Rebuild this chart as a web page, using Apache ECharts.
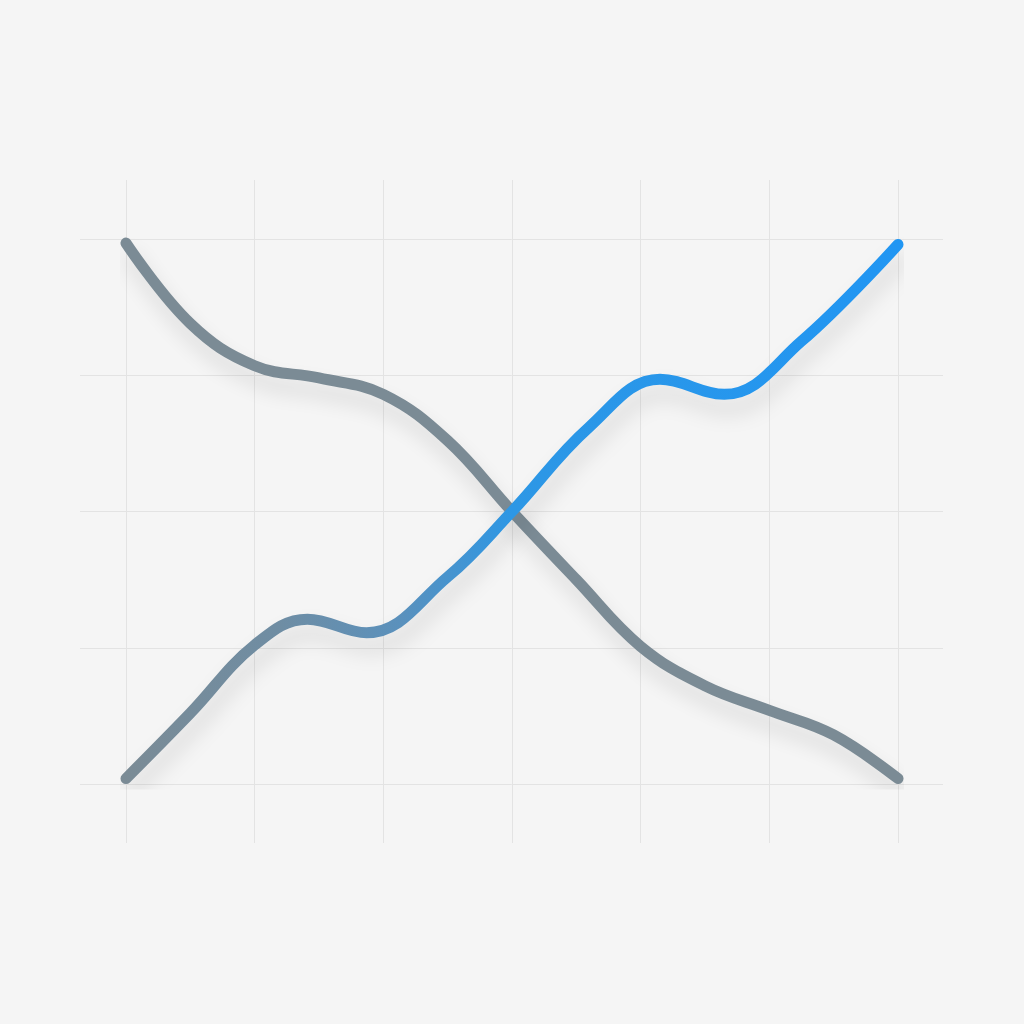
<!DOCTYPE html>
<html>
<head>
<meta charset="utf-8">
<script src="https://cdn.jsdelivr.net/npm/echarts@6/dist/echarts.min.js"></script>
<style>
  html, body { margin: 0; padding: 0; background: #f5f5f5; }
  #main { width: 1024px; height: 1024px; }
</style>
</head>
<body>
<div id="main"></div>
<script>
// descending gray series, [x, y] on a 0..6 by 0..4 scale
var grayX = [0, 0.5, 1, 1.5, 2, 2.5, 3, 3.5, 4, 4.5, 5, 5.5, 6];
var grayY = [3.97, 3.38, 3.07, 2.98, 2.86, 2.52, 2.0, 1.5, 1.01, 0.72, 0.54, 0.36, 0.04];
// ascending series (gray fading into blue), points at its bends
var blueX = [0, 0.5, 1, 1.41, 1.87, 2.5, 3, 3.6, 4.15, 4.65, 5.25, 6];
var blueY = [0.04, 0.52, 1.02, 1.21, 1.11, 1.52, 2.0, 2.62, 2.97, 2.86, 3.25, 3.96];
var xMin = 0, xMax = 6;
var yMin = 0, yMax = 4;

function pairs(xs, ys) {
  return xs.map(function (x, i) { return [x, ys[i]]; });
}

var gridLine = { show: true, lineStyle: { color: "#e3e3e3", width: 1 } };
var hidden = { show: false };

function lineSeries(data, color) {
  return {
    type: "line",
    xAxisIndex: 2,
    yAxisIndex: 2,
    data: data,
    smooth: 0.4,
    symbol: "none",
    lineStyle: {
      width: 11,
      color: color,
      cap: "round",
      join: "round",
      shadowColor: "rgba(0,0,0,0.12)",
      shadowBlur: 20,
      shadowOffsetX: 4,
      shadowOffsetY: 14
    },
    z: 3
  };
}

var option = {
  backgroundColor: "#f5f5f5",
  animation: false,
  grid: [
    { left: 80, right: 81, top: 239, bottom: 240 },   // horizontal grid lines
    { left: 126, right: 126, top: 180, bottom: 181 }, // vertical grid lines
    { left: 126, right: 126, top: 239, bottom: 240 }  // data
  ],
  xAxis: [
    { gridIndex: 0, type: "value", min: 0, max: 1, show: false },
    { gridIndex: 1, type: "value", min: xMin, max: xMax, interval: 1,
      axisLine: hidden, axisTick: hidden, axisLabel: hidden, splitLine: gridLine },
    { gridIndex: 2, type: "value", min: xMin, max: xMax, show: false }
  ],
  yAxis: [
    { gridIndex: 0, type: "value", min: yMin, max: yMax, interval: 1,
      axisLine: hidden, axisTick: hidden, axisLabel: hidden, splitLine: gridLine },
    { gridIndex: 1, type: "value", min: 0, max: 1, show: false },
    { gridIndex: 2, type: "value", min: yMin, max: yMax, show: false }
  ],
  series: [
    lineSeries(pairs(grayX, grayY), "#7b8b95"),
    lineSeries(pairs(blueX, blueY), new echarts.graphic.LinearGradient(0, 0, 1, 0, [
      { offset: 0, color: "#7b8b95" },
      { offset: 0.2, color: "#6f8da3" },
      { offset: 0.36, color: "#5a91bd" },
      { offset: 0.5, color: "#2d97e5" },
      { offset: 1, color: "#2196f3" }
    ]))
  ]
};

var myChart = echarts.init(document.getElementById("main"));
myChart.setOption(option);
</script>
</body>
</html>
